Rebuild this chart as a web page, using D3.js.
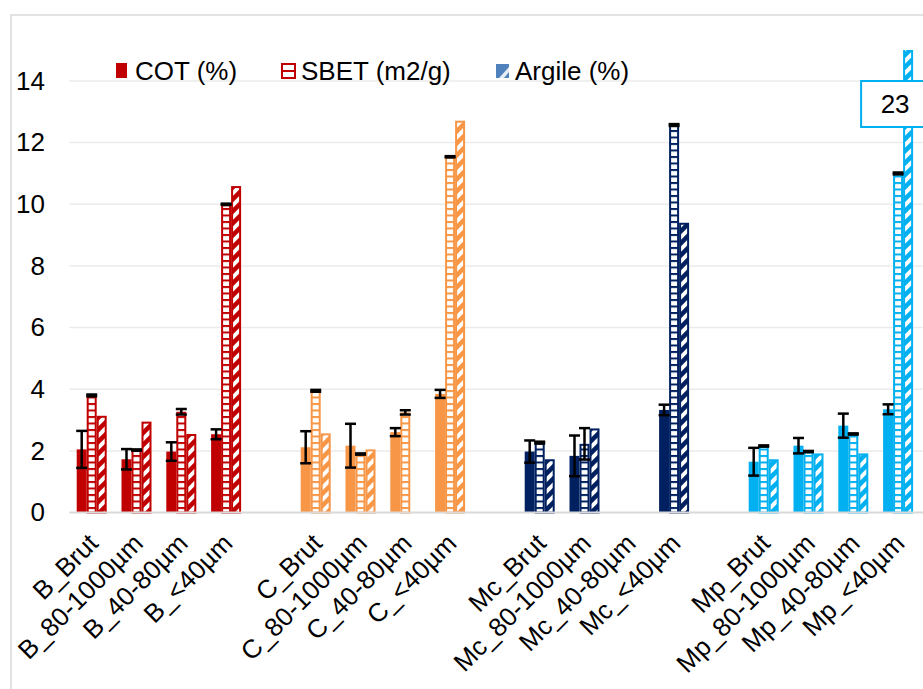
<!DOCTYPE html>
<html lang="fr">
<head>
    <meta charset="UTF-8">
    <title>COT SBET Argile</title>
    <style>
        body { margin: 0; background: #fff; }
    </style>
</head>
<body>
<script src="https://cdn.jsdelivr.net/npm/d3@7"></script>
<script>
    // categories ("" = empty slot between groups)
    const categories = [
        "B_Brut", "B_80-1000µm", "B_40-80µm", "B_<40µm", "",
        "C_Brut", "C_80-1000µm", "C_40-80µm", "C_<40µm", "",
        "Mc_Brut", "Mc_80-1000µm", "Mc_40-80µm", "Mc_<40µm", "",
        "Mp_Brut", "Mp_80-1000µm", "Mp_40-80µm", "Mp_<40µm"
    ];
    const cot =     [2.05, 1.73, 1.98, 2.54, null, 2.12, 2.17, 2.61, 3.85, null, 1.98, 1.84, null, 3.33, null, 1.65, 2.17, 2.82, 3.35];
    const cotErr =  [0.6, 0.33, 0.3, 0.16, null, 0.52, 0.71, 0.13, 0.13, null, 0.36, 0.66, null, 0.17, null, 0.45, 0.25, 0.39, 0.16];
    const sbet =    [3.80, 2.03, 3.27, 10.0, null, 3.95, 1.90, 3.25, 11.54, null, 2.27, 2.23, null, 12.57, null, 2.16, 1.98, 2.55, 11.0];
    const sbetErr = [0.03, 0.02, 0.09, 0.02, null, 0.03, 0.02, 0.07, 0.02, null, 0.03, 0.51, null, 0.03, null, 0.02, 0.02, 0.02, 0.03];
    const argile =  [3.14, 2.95, 2.55, 10.59, null, 2.57, 2.05, null, 12.71, null, 1.73, 2.73, null, 9.40, null, 1.73, 1.92, 1.92, 23];
    const yTicks = [0, 2, 4, 6, 8, 10, 12, 14];
    const legendLabels = ["COT (%)", "SBET (m2/g)", "Argile (%)"];

    const groupColors = { B: "#C00000", C: "#F79646", Mc: "#002060", Mp: "#00B0F0" };

    const width = 923, height = 689;
    const fontSize = 26;

    const svg = d3.select("body").append("svg")
        .attr("width", width)
        .attr("height", height)
        .style("font-family", "'Liberation Sans', Arial, sans-serif");

    const x = d3.scaleBand()
        .domain(d3.range(categories.length))
        .range([69.3, 69.3 + 44.8 * categories.length]);
    const xs = d3.scaleBand()
        .domain(["cot", "sbet", "arg"])
        .range([0, x.bandwidth()])
        .paddingOuter(0.74);
    const y = d3.scaleLinear().domain([0, 15]).range([512.6, 50.1]);

    // patterns
    const defs = svg.append("defs");
    Object.entries(groupColors).forEach(([g, c]) => {
        const ps = defs.append("pattern").attr("id", "sbet-" + g)
            .attr("patternUnits", "userSpaceOnUse").attr("width", 20).attr("height", 6.5);
        ps.append("rect").attr("width", 20).attr("height", 6.5).attr("fill", "#fff");
        ps.append("rect").attr("width", 20).attr("height", 2).attr("fill", c);

        const pa = defs.append("pattern").attr("id", "arg-" + g)
            .attr("patternUnits", "userSpaceOnUse").attr("width", 12).attr("height", 12);
        pa.append("rect").attr("width", 12).attr("height", 12).attr("fill", "#fff");
        pa.append("path").attr("d", "M-3,3L3,-3M0,12L12,0M9,15L15,9")
            .attr("stroke", c).attr("stroke-width", 4.5);
    });
    defs.append("clipPath").attr("id", "plot")
        .append("rect").attr("x", 0).attr("y", y(15)).attr("width", width).attr("height", y(0) - y(15) + 2);

    // outer frame
    svg.append("path").attr("d", "M11,689L11,15L923,15")
        .attr("fill", "none").attr("stroke", "#D9D9D9").attr("stroke-width", 1.5);

    // gridlines
    svg.append("g").selectAll("line").data(yTicks.slice(1)).join("line")
        .attr("x1", x.range()[0]).attr("x2", width)
        .attr("y1", d => y(d)).attr("y2", d => y(d))
        .attr("stroke", "#EBEBEB").attr("stroke-width", 1.5);

    // y axis labels
    const yAxis = svg.append("g").attr("transform", "translate(45,0)")
        .call(d3.axisLeft(y).tickValues(yTicks).tickSize(0).tickPadding(0));
    yAxis.select(".domain").remove();
    yAxis.selectAll("text").attr("font-size", fontSize).attr("fill", "#000")
        .attr("font-family", "'Liberation Sans', Arial, sans-serif");

    const rows = categories.map((c, i) => ({
        i, cat: c, g: c.split("_")[0],
        cot: cot[i], cotErr: cotErr[i], sbet: sbet[i], sbetErr: sbetErr[i], arg: argile[i]
    })).filter(d => d.cat !== "");

    const bars = svg.append("g").attr("clip-path", "url(#plot)");

    bars.selectAll(".cot").data(rows.filter(d => d.cot != null)).join("rect")
        .attr("x", d => x(d.i) + xs("cot"))
        .attr("width", xs.bandwidth())
        .attr("y", d => y(d.cot))
        .attr("height", d => y(0) - y(d.cot))
        .attr("fill", d => groupColors[d.g]);

    bars.selectAll(".sbet").data(rows.filter(d => d.sbet != null)).join("rect")
        .attr("x", d => x(d.i) + xs("sbet") + 1)
        .attr("width", xs.bandwidth() - 2)
        .attr("y", d => y(d.sbet) + 1)
        .attr("height", d => y(0) - y(d.sbet) - 1)
        .attr("fill", d => `url(#sbet-${d.g})`)
        .attr("stroke", d => groupColors[d.g]).attr("stroke-width", 2);

    bars.selectAll(".arg").data(rows.filter(d => d.arg != null)).join("rect")
        .attr("x", d => x(d.i) + xs("arg") + 1)
        .attr("width", xs.bandwidth() - 2)
        .attr("y", d => y(d.arg) + 1)
        .attr("height", d => y(0) - y(d.arg) - 1)
        .attr("fill", d => `url(#arg-${d.g})`)
        .attr("stroke", d => groupColors[d.g]).attr("stroke-width", 2);

    // baseline
    svg.append("line")
        .attr("x1", x.range()[0]).attr("x2", width)
        .attr("y1", y(0)).attr("y2", y(0))
        .attr("stroke", "#D9D9D9").attr("stroke-width", 2);

    // error bars
    function errorBars(key, errKey, sub) {
        const data = rows.filter(d => d[key] != null);
        const g = svg.append("g").attr("stroke", "#000").attr("stroke-width", 2.5);
        data.forEach(d => {
            const cx = x(d.i) + xs(sub) + xs.bandwidth() / 2;
            const y1 = y(d[key] + d[errKey]), y2 = y(d[key] - d[errKey]);
            g.append("line").attr("x1", cx).attr("x2", cx).attr("y1", y1).attr("y2", y2);
            g.append("line").attr("x1", cx - 5.5).attr("x2", cx + 5.5).attr("y1", y1).attr("y2", y1);
            g.append("line").attr("x1", cx - 5.5).attr("x2", cx + 5.5).attr("y1", y2).attr("y2", y2);
        });
    }
    errorBars("cot", "cotErr", "cot");
    errorBars("sbet", "sbetErr", "sbet");

    // x labels
    svg.append("g").selectAll("text").data(rows).join("text")
        .attr("transform", d => `translate(${x(d.i) + x.bandwidth() / 2 + 8},545) rotate(-45)`)
        .attr("text-anchor", "end")
        .attr("font-size", fontSize)
        .attr("fill", "#000")
        .text(d => d.cat);

    // data label for clipped bar
    const last = rows[rows.length - 1];
    const lx = x(last.i) + xs("arg") + xs.bandwidth() / 2 - 13;
    svg.append("rect").attr("x", lx - 34).attr("y", 81).attr("width", 68).attr("height", 46)
        .attr("fill", "#fff").attr("stroke", groupColors[last.g]).attr("stroke-width", 2);
    svg.append("text").attr("x", lx).attr("y", 104).attr("dy", "0.35em")
        .attr("text-anchor", "middle").attr("font-size", fontSize).text(last.arg);

    // legend
    const legX = [116, 281, 496];
    const leg = svg.append("g");
    leg.append("rect").attr("x", legX[0]).attr("y", 63).attr("width", 11).attr("height", 15).attr("fill", "#C00000");
    leg.append("rect").attr("x", legX[1] + 1).attr("y", 64).attr("width", 13).attr("height", 14)
        .attr("fill", "#fff").attr("stroke", "#C00000").attr("stroke-width", 2);
    leg.append("line").attr("x1", legX[1] + 1).attr("x2", legX[1] + 14).attr("y1", 71).attr("y2", 71)
        .attr("stroke", "#C00000").attr("stroke-width", 2);
    leg.append("rect").attr("x", legX[2]).attr("y", 64).attr("width", 13).attr("height", 14).attr("fill", "#4F81BD");
    leg.append("path").attr("d", `M${legX[2] + 3},78L${legX[2] + 13},67L${legX[2] + 13},72L${legX[2] + 8},78Z`)
        .attr("fill", "#fff").attr("opacity", 0.85);
    leg.selectAll("text").data(legendLabels).join("text")
        .attr("x", (d, i) => legX[i] + 19 + (i === 1 ? 1 : 0))
        .attr("y", 80)
        .attr("font-size", fontSize)
        .attr("fill", "#000")
        .text(d => d);
</script>
</body>
</html>
